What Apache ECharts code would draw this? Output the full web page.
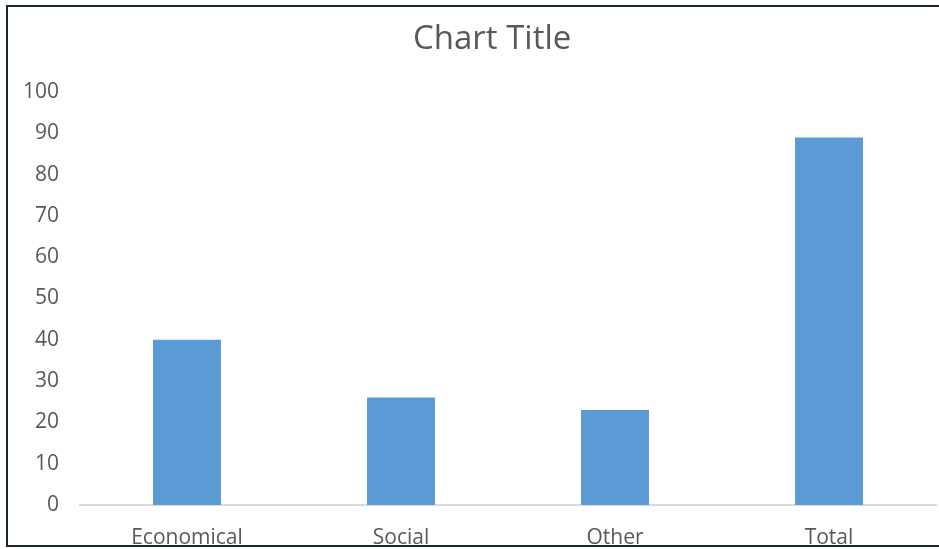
<!DOCTYPE html>
<html>
<head>
<meta charset="utf-8">
<script src="https://cdn.jsdelivr.net/npm/echarts@6/dist/echarts.min.js"></script>
<style>
  html, body { margin: 0; padding: 0; background: #ffffff; }
  #chart { width: 939px; height: 549px; }
</style>
</head>
<body>
<div id="chart"></div>
<script>
// Category names along the x axis
const categories = ['Economical', 'Social', 'Other', 'Total'];
// Bar values per category
const values = [40, 26, 23, 89];
// Value axis range and step
const yMin = 0;
const yMax = 100;
const yStep = 10;

const chart = echarts.init(document.getElementById('chart'), null, { renderer: 'canvas' });

const font = '"Open Sans", "Noto Sans", sans-serif';
const textColor = '#595959';

chart.setOption({
  animation: false,
  backgroundColor: '#ffffff',
  title: {
    text: 'Chart Title',
    left: 408,
    top: 18,
    textStyle: { fontFamily: font, fontSize: 33, fontWeight: 'normal', color: textColor }
  },
  grid: { left: 80, right: 3, top: 92, bottom: 43, containLabel: false },
  xAxis: {
    type: 'category',
    data: categories,
    axisLine: { show: true, lineStyle: { color: '#d9d9d9', width: 2 } },
    axisTick: { show: false },
    axisLabel: { margin: 23, fontFamily: font, fontSize: 21, color: textColor }
  },
  yAxis: {
    type: 'value',
    min: yMin,
    max: yMax,
    interval: yStep,
    axisLine: { show: false },
    axisTick: { show: false },
    splitLine: { show: false },
    axisLabel: { margin: 21, fontFamily: font, fontSize: 21, color: textColor, padding: [6, 0, 0, 0] }
  },
  series: [{
    type: 'bar',
    data: values,
    barWidth: 68,
    itemStyle: { color: '#5b9bd5' }
  }],
  graphic: [{
    type: 'rect',
    shape: { x: 7, y: 6, width: 960, height: 540 },
    style: { fill: 'none', stroke: '#15291f', lineWidth: 2 },
    silent: true
  }]
});
</script>
</body>
</html>
